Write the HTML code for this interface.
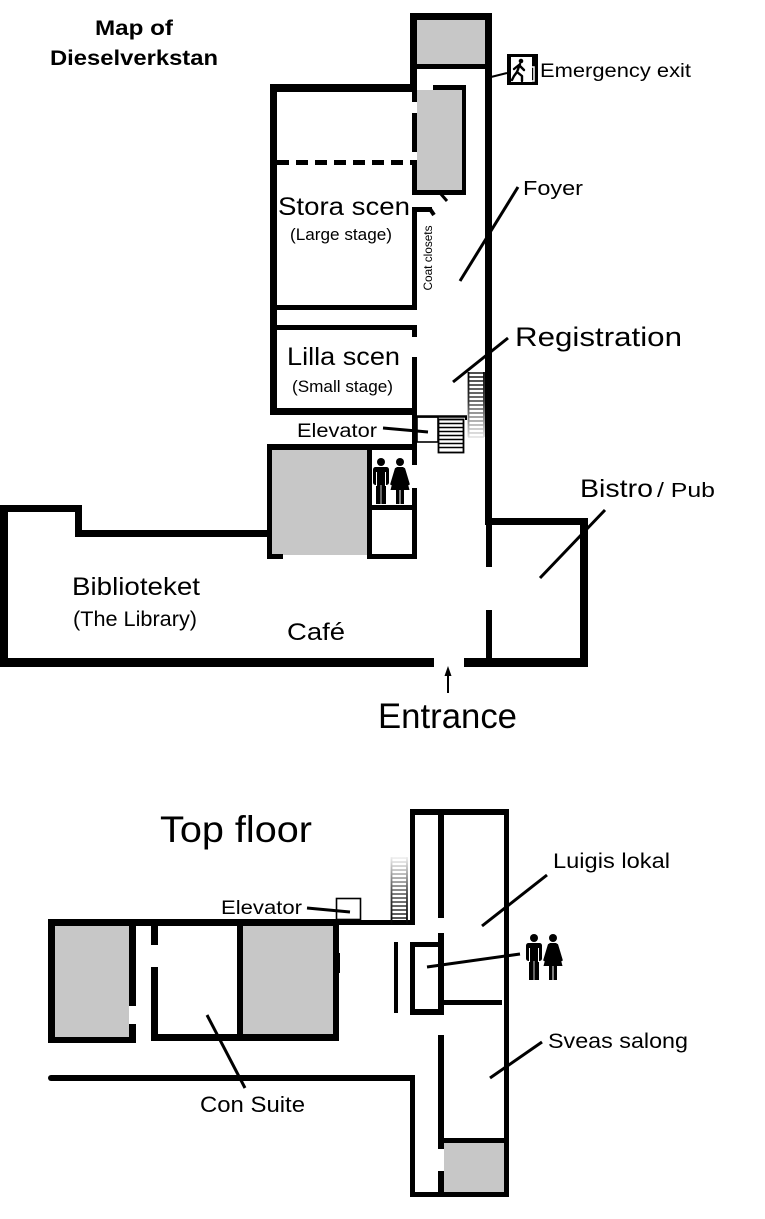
<!DOCTYPE html>
<html>
<head>
<meta charset="utf-8">
<style>
html,body{margin:0;padding:0;background:#fff;}
svg{display:block;}
text{font-family:"Liberation Sans",Arial,sans-serif;fill:#000;}
</style>
</head>
<body>
<svg width="765" height="1219" viewBox="0 0 765 1219" xmlns="http://www.w3.org/2000/svg">
<defs>
  <linearGradient id="fadeDown" gradientUnits="userSpaceOnUse" x1="0" y1="372" x2="0" y2="437">
    <stop offset="0" stop-color="#000"/>
    <stop offset="0.45" stop-color="#333"/>
    <stop offset="1" stop-color="#ddd"/>
  </linearGradient>
  <linearGradient id="fadeUp" gradientUnits="userSpaceOnUse" x1="0" y1="857" x2="0" y2="925">
    <stop offset="0" stop-color="#eee"/>
    <stop offset="0.55" stop-color="#444"/>
    <stop offset="1" stop-color="#000"/>
  </linearGradient>
</defs>
<rect width="765" height="1219" fill="#fff"/>

<!-- ============ GROUND FLOOR ============ -->
<g fill="#000">
  <!-- top shaft -->
  <rect x="417" y="20" width="68" height="45" fill="#c7c7c7"/>
  <rect x="410" y="13" width="82" height="7"/>
  <rect x="410" y="13" width="7" height="79"/>
  <rect x="485" y="13" width="7" height="512"/>
  <rect x="417" y="64" width="68" height="5"/>

  <!-- Stora scen -->
  <rect x="270" y="84" width="147" height="8"/>
  <rect x="270" y="84" width="7" height="331"/>

  <!-- coat gray box -->
  <rect x="417" y="90" width="45" height="100" fill="#c7c7c7"/>
  <rect x="433" y="85" width="33" height="5"/>
  <rect x="462" y="85" width="4" height="110"/>
  <rect x="412" y="190" width="54" height="5"/>
  <rect x="412" y="85" width="5" height="17"/>
  <rect x="412" y="113" width="5" height="39"/>
  <rect x="412" y="160" width="5" height="35"/>

  <!-- bracket coat closets -->
  <rect x="412" y="207" width="20" height="5"/>
  <rect x="412" y="207" width="5" height="103"/>
  <rect x="270" y="305" width="147" height="5"/>

  <!-- Lilla scen -->
  <rect x="270" y="325" width="147" height="5"/>
  <rect x="412" y="325" width="5" height="12"/>
  <rect x="412" y="357" width="5" height="108"/>
  <rect x="270" y="408" width="147" height="7"/>

  <!-- gray room + restroom -->
  <rect x="272" y="450" width="95" height="105" fill="#c7c7c7"/>
  <rect x="267" y="444" width="150" height="6"/>
  <rect x="267" y="444" width="5" height="115"/>
  <rect x="267" y="554" width="16" height="5"/>
  <rect x="367" y="444" width="5" height="115"/>
  <rect x="367" y="505" width="50" height="5"/>
  <rect x="367" y="554" width="50" height="5"/>
  <rect x="412" y="488" width="5" height="71"/>

  <!-- Library / cafe -->
  <rect x="0" y="505" width="82" height="7"/>
  <rect x="75" y="505" width="7" height="32"/>
  <rect x="75" y="530" width="197" height="7"/>
  <rect x="0" y="505" width="8" height="162"/>
  <rect x="0" y="658" width="434" height="9"/>
  <rect x="464" y="658" width="124" height="9"/>

  <!-- Bistro -->
  <rect x="485" y="518" width="103" height="7"/>
  <rect x="580" y="518" width="8" height="149"/>
  <rect x="486" y="518" width="6" height="49"/>
  <rect x="486" y="610" width="6" height="50"/>
</g>

<!-- dashed line -->
<line x1="277" y1="162.5" x2="412" y2="162.5" stroke="#000" stroke-width="5" stroke-dasharray="12 7"/>
<!-- door swing lines -->
<line x1="440" y1="193" x2="447" y2="201" stroke="#000" stroke-width="3"/>
<line x1="430" y1="209" x2="434" y2="215" stroke="#000" stroke-width="4"/>

<!-- elevator ground -->
<g fill="none" stroke="#000">
  <line x1="417" y1="416.5" x2="467" y2="416.5" stroke-width="2.5"/>
  <line x1="466" y1="416" x2="466" y2="420" stroke-width="2"/>
  <rect x="417" y="417" width="21" height="25" stroke-width="1.6"/>
  <rect x="438.5" y="419.5" width="25" height="33" stroke-width="1.8"/>
  <g stroke-width="1.5">
    <line x1="438" y1="423.5" x2="464" y2="423.5"/>
    <line x1="438" y1="427.5" x2="464" y2="427.5"/>
    <line x1="438" y1="431.5" x2="464" y2="431.5"/>
    <line x1="438" y1="435.5" x2="464" y2="435.5"/>
    <line x1="438" y1="439.5" x2="464" y2="439.5"/>
    <line x1="438" y1="443.5" x2="464" y2="443.5"/>
    <line x1="438" y1="447.5" x2="464" y2="447.5"/>
  </g>
</g>
<line x1="383" y1="428" x2="428" y2="432" stroke="#000" stroke-width="3"/>

<!-- upper stairs ground (fading down) -->
<g stroke="url(#fadeDown)" fill="none">
  <line x1="468.5" y1="372" x2="468.5" y2="437" stroke-width="1.8"/>
  <line x1="484" y1="372" x2="484" y2="437" stroke-width="1.8"/>
  <g stroke-width="1.4">
    <line x1="468" y1="373" x2="484" y2="373"/>
    <line x1="468" y1="377" x2="484" y2="377"/>
    <line x1="468" y1="381" x2="484" y2="381"/>
    <line x1="468" y1="385" x2="484" y2="385"/>
    <line x1="468" y1="389" x2="484" y2="389"/>
    <line x1="468" y1="393" x2="484" y2="393"/>
    <line x1="468" y1="397" x2="484" y2="397"/>
    <line x1="468" y1="401" x2="484" y2="401"/>
    <line x1="468" y1="405" x2="484" y2="405"/>
    <line x1="468" y1="409" x2="484" y2="409"/>
    <line x1="468" y1="413" x2="484" y2="413"/>
    <line x1="468" y1="417" x2="484" y2="417"/>
    <line x1="468" y1="421" x2="484" y2="421"/>
    <line x1="468" y1="425" x2="484" y2="425"/>
    <line x1="468" y1="429" x2="484" y2="429"/>
    <line x1="468" y1="433" x2="484" y2="433"/>
    <line x1="468" y1="437" x2="484" y2="437"/>
  </g>
</g>

<!-- leader lines ground -->
<g stroke="#000" stroke-width="3" stroke-linecap="butt">
  <line x1="491" y1="77" x2="507" y2="73" stroke-width="2"/>
  <line x1="460" y1="281" x2="518" y2="187"/>
  <line x1="453" y1="382" x2="508" y2="338"/>
  <line x1="540" y1="578" x2="605" y2="510"/>
</g>

<!-- entrance arrow -->
<line x1="448" y1="693" x2="448" y2="674" stroke="#000" stroke-width="2"/>
<polygon points="448,666 444.5,676 451.5,676" fill="#000"/>

<!-- exit sign -->
<g>
  <rect x="507" y="54" width="31" height="31" fill="#000"/>
  <rect x="511" y="57" width="21" height="25" fill="#fff"/>
  <circle cx="521" cy="61" r="2.3" fill="#000"/>
  <g stroke="#000" stroke-width="2.4" fill="none" stroke-linecap="round" stroke-linejoin="round">
    <polyline points="520,64 517,72"/>
    <polyline points="517,72 522,76 522,81"/>
    <polyline points="517,72 514,76 512,80"/>
    <polyline points="514,69 519,65 524,70"/>
  </g>
  <polyline points="531,67 534,67 534,81 526,81" stroke="#fff" stroke-width="1.5" fill="none"/>
</g>

<!-- restroom icons -->
<g id="wc" fill="#000">
  <circle cx="381" cy="462" r="4"/>
  <rect x="373" y="467" width="16" height="18" rx="2.5"/>
  <rect x="376" y="483" width="4.6" height="21"/>
  <rect x="381.4" y="483" width="4.6" height="21"/>
  <line x1="376.5" y1="472" x2="376.5" y2="486" stroke="#fff" stroke-width="1"/>
  <line x1="385.5" y1="472" x2="385.5" y2="486" stroke="#fff" stroke-width="1"/>
  <circle cx="400" cy="462" r="4"/>
  <polygon points="396.5,467 403.5,467 409.5,490 390.5,490"/>
  <line x1="396" y1="469" x2="391.5" y2="484" stroke="#000" stroke-width="2.4" stroke-linecap="round"/>
  <line x1="404" y1="469" x2="408.5" y2="484" stroke="#000" stroke-width="2.4" stroke-linecap="round"/>
  <rect x="396" y="489" width="3.5" height="15"/>
  <rect x="400.5" y="489" width="3.5" height="15"/>
</g>

<!-- ground text -->
<text x="95" y="35" font-size="21" font-weight="bold" textLength="78" lengthAdjust="spacingAndGlyphs">Map of</text>
<text x="50" y="65" font-size="21" font-weight="bold" textLength="168" lengthAdjust="spacingAndGlyphs">Dieselverkstan</text>
<text x="540" y="77" font-size="19.5" textLength="151" lengthAdjust="spacingAndGlyphs">Emergency exit</text>
<text x="523" y="195" font-size="20" textLength="60" lengthAdjust="spacingAndGlyphs">Foyer</text>
<text x="278" y="215" font-size="25" textLength="132" lengthAdjust="spacingAndGlyphs">Stora scen</text>
<text x="290" y="240" font-size="17" textLength="102" lengthAdjust="spacingAndGlyphs">(Large stage)</text>
<text transform="translate(432,258) rotate(-90)" x="0" y="0" font-size="12" text-anchor="middle" textLength="65" lengthAdjust="spacingAndGlyphs">Coat closets</text>
<text x="515" y="346" font-size="27" textLength="167" lengthAdjust="spacingAndGlyphs">Registration</text>
<text x="287" y="365" font-size="25" textLength="113" lengthAdjust="spacingAndGlyphs">Lilla scen</text>
<text x="292" y="392" font-size="17" textLength="101" lengthAdjust="spacingAndGlyphs">(Small stage)</text>
<text x="297" y="437" font-size="19" textLength="80" lengthAdjust="spacingAndGlyphs">Elevator</text>
<text x="580" y="497" font-size="25" textLength="73" lengthAdjust="spacingAndGlyphs">Bistro</text>
<text x="657" y="497" font-size="20" textLength="58" lengthAdjust="spacingAndGlyphs">/ Pub</text>
<text x="72" y="595" font-size="25" textLength="128" lengthAdjust="spacingAndGlyphs">Biblioteket</text>
<text x="73" y="626" font-size="21" textLength="124" lengthAdjust="spacingAndGlyphs">(The Library)</text>
<text x="287" y="640" font-size="24" textLength="58" lengthAdjust="spacingAndGlyphs">Café</text>
<text x="378" y="728" font-size="35" textLength="139" lengthAdjust="spacingAndGlyphs">Entrance</text>

<!-- ============ TOP FLOOR ============ -->
<g fill="#000">
  <rect x="55" y="926" width="74" height="111" fill="#c7c7c7"/>
  <rect x="243" y="926" width="90" height="108" fill="#c7c7c7"/>
  <rect x="48" y="919" width="291" height="7"/>
  <rect x="339" y="920" width="76" height="5"/>
  <rect x="48" y="919" width="7" height="124"/>
  <rect x="48" y="1037" width="88" height="6"/>
  <rect x="129" y="919" width="7" height="87"/>
  <rect x="129" y="1024" width="7" height="19"/>
  <rect x="151" y="919" width="7" height="26"/>
  <rect x="151" y="967" width="7" height="74"/>
  <rect x="151" y="1034" width="188" height="7"/>
  <rect x="237" y="919" width="6" height="122"/>
  <rect x="333" y="919" width="6" height="122"/>
  <rect x="333" y="953" width="7" height="20"/>

  <!-- corridor -->
  <rect x="410" y="809" width="5" height="116"/>
  <rect x="410" y="809" width="99" height="6"/>
  <rect x="504" y="809" width="5" height="388"/>
  <rect x="410" y="1192" width="99" height="5"/>
  <rect x="410" y="1075" width="5" height="122"/>
  <rect x="48" y="1075" width="367" height="6" rx="3"/>
  <rect x="438" y="809" width="6" height="109"/>
  <rect x="438" y="933" width="6" height="80"/>
  <rect x="438" y="1035" width="6" height="114"/>
  <rect x="438" y="1171" width="6" height="26"/>

  <!-- restroom box -->
  <rect x="410" y="942" width="5" height="73"/>
  <rect x="410" y="942" width="34" height="5"/>
  <rect x="410" y="1009" width="34" height="6"/>
  <rect x="394" y="942" width="4" height="71"/>
  <rect x="444" y="1000" width="58" height="5"/>

  <!-- gray room bottom right -->
  <rect x="444" y="1143" width="60" height="49" fill="#c7c7c7"/>
  <rect x="438" y="1138" width="71" height="5"/>
</g>

<!-- elevator top -->
<rect x="336.5" y="898.5" width="24" height="21" fill="none" stroke="#000" stroke-width="1.6"/>
<line x1="307" y1="908" x2="350" y2="912" stroke="#000" stroke-width="3"/>

<!-- stairs top (fading up) -->
<g stroke="url(#fadeUp)" fill="none">
  <line x1="391.5" y1="857" x2="391.5" y2="925" stroke-width="1.8"/>
  <line x1="407" y1="857" x2="407" y2="925" stroke-width="1.8"/>
  <g stroke-width="1.4">
    <line x1="391" y1="858" x2="407" y2="858"/>
    <line x1="391" y1="862" x2="407" y2="862"/>
    <line x1="391" y1="866" x2="407" y2="866"/>
    <line x1="391" y1="870" x2="407" y2="870"/>
    <line x1="391" y1="874" x2="407" y2="874"/>
    <line x1="391" y1="878" x2="407" y2="878"/>
    <line x1="391" y1="882" x2="407" y2="882"/>
    <line x1="391" y1="886" x2="407" y2="886"/>
    <line x1="391" y1="890" x2="407" y2="890"/>
    <line x1="391" y1="894" x2="407" y2="894"/>
    <line x1="391" y1="898" x2="407" y2="898"/>
    <line x1="391" y1="902" x2="407" y2="902"/>
    <line x1="391" y1="906" x2="407" y2="906"/>
    <line x1="391" y1="910" x2="407" y2="910"/>
    <line x1="391" y1="914" x2="407" y2="914"/>
    <line x1="391" y1="918" x2="407" y2="918"/>
  </g>
</g>

<!-- leader lines top -->
<g stroke="#000" stroke-width="3">
  <line x1="482" y1="926" x2="547" y2="875"/>
  <line x1="427" y1="967" x2="520" y2="954"/>
  <line x1="490" y1="1078" x2="542" y2="1042"/>
  <line x1="207" y1="1015" x2="245" y2="1088"/>
</g>

<!-- restroom icons top -->
<g transform="translate(153,476)" fill="#000">
  <circle cx="381" cy="462" r="4"/>
  <rect x="373" y="467" width="16" height="18" rx="2.5"/>
  <rect x="376" y="483" width="4.6" height="21"/>
  <rect x="381.4" y="483" width="4.6" height="21"/>
  <line x1="376.5" y1="472" x2="376.5" y2="486" stroke="#fff" stroke-width="1"/>
  <line x1="385.5" y1="472" x2="385.5" y2="486" stroke="#fff" stroke-width="1"/>
  <circle cx="400" cy="462" r="4"/>
  <polygon points="396.5,467 403.5,467 409.5,490 390.5,490"/>
  <line x1="396" y1="469" x2="391.5" y2="484" stroke="#000" stroke-width="2.4" stroke-linecap="round"/>
  <line x1="404" y1="469" x2="408.5" y2="484" stroke="#000" stroke-width="2.4" stroke-linecap="round"/>
  <rect x="396" y="489" width="3.5" height="15"/>
  <rect x="400.5" y="489" width="3.5" height="15"/>
</g>

<!-- top text -->
<text x="160" y="842" font-size="37" textLength="152" lengthAdjust="spacingAndGlyphs">Top floor</text>
<text x="553" y="868" font-size="21" textLength="117" lengthAdjust="spacingAndGlyphs">Luigis lokal</text>
<text x="221" y="914" font-size="19" textLength="81" lengthAdjust="spacingAndGlyphs">Elevator</text>
<text x="548" y="1048" font-size="21" textLength="140" lengthAdjust="spacingAndGlyphs">Sveas salong</text>
<text x="200" y="1112" font-size="22" textLength="105" lengthAdjust="spacingAndGlyphs">Con Suite</text>
</svg>
</body>
</html>
